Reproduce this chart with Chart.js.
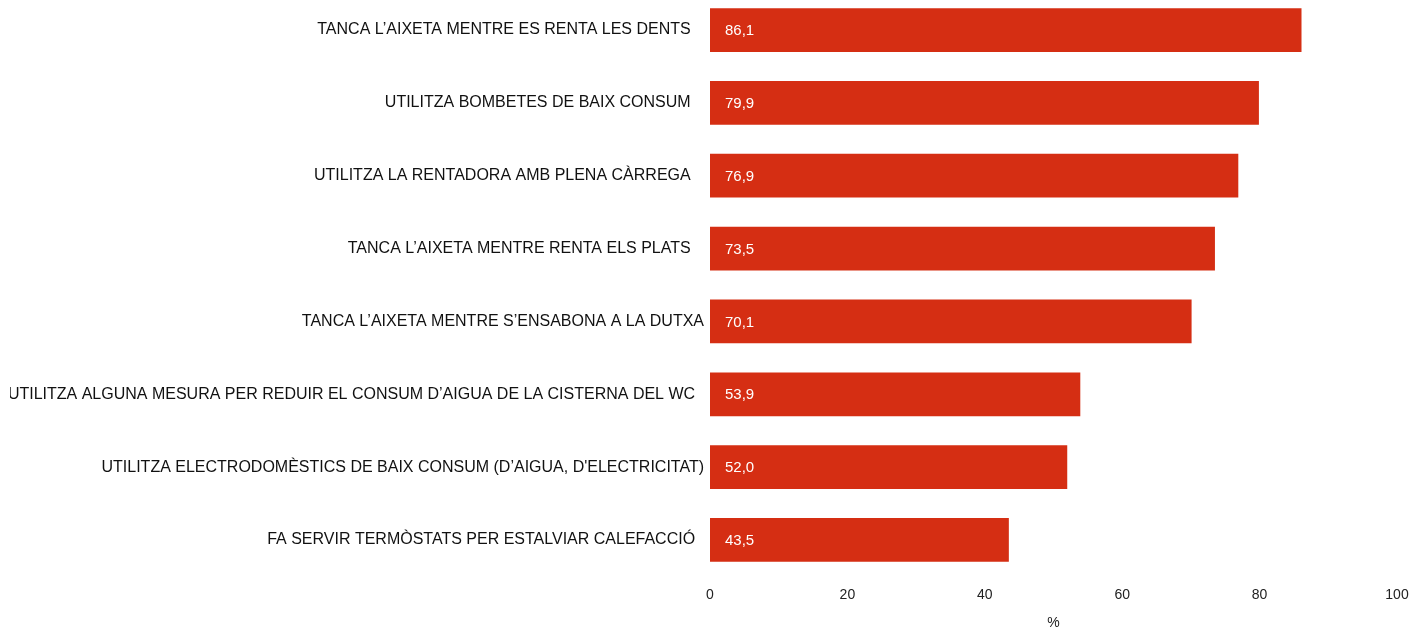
<!DOCTYPE html>
<html>
<head>
<meta charset="utf-8">
<script src="https://cdn.jsdelivr.net/npm/chart.js@4"></script>
<style>
    html, body { margin: 0; padding: 0; background: #fff; overflow: hidden; }
    #wrap { position: absolute; left: 0; top: -22px; width: 1412px; height: 654px; }
</style>
</head>
<body>
<div id="wrap"><canvas id="habits"></canvas></div>
<script>
// etiquetes (alguns porten espais al final, com a l'original)
var categories = [
    'TANCA L\u2019AIXETA MENTRE ES RENTA LES DENTS   ',
    'UTILITZA BOMBETES DE BAIX CONSUM   ',
    'UTILITZA LA RENTADORA AMB PLENA CÀRREGA   ',
    'TANCA L\u2019AIXETA MENTRE RENTA ELS PLATS   ',
    'TANCA L\u2019AIXETA MENTRE S\u2019ENSABONA A LA DUTXA',
    'UTILITZA ALGUNA MESURA PER REDUIR EL CONSUM D\u2019AIGUA DE LA CISTERNA DEL WC  ',
    'UTILITZA ELECTRODOMÈSTICS DE BAIX CONSUM (D\u2019AIGUA, D\'ELECTRICITAT)',
    'FA SERVIR TERMÒSTATS PER ESTALVIAR CALEFACCIÓ  '
];
var percentatges = [86.1, 79.9, 76.9, 73.5, 70.1, 53.9, 52.0, 43.5];
var xTicks = [0, 20, 40, 60, 80, 100];

Chart.defaults.font.family = '"Liberation Sans", Arial, sans-serif';
Chart.defaults.font.size = 14;

// valors dins de la barra + retall de l'etiqueta llarga a l'esquerra
var valueLabels = {
    id: 'valueLabels',
    afterDatasetsDraw: function (chart) {
        var c = chart.ctx;
        var meta = chart.getDatasetMeta(0);
        c.save();
        c.fillStyle = '#ffffff';
        c.font = '15px "Liberation Sans", Arial, sans-serif';
        c.textAlign = 'left';
        c.textBaseline = 'middle';
        meta.data.forEach(function (bar, i) {
            var txt = percentatges[i].toFixed(1).replace('.', ',');
            c.fillText(txt, bar.base + 15, bar.y + 1);
        });
        c.restore();
    },
    afterDraw: function (chart) {
        var c = chart.ctx;
        c.save();
        c.fillStyle = '#ffffff';
        c.fillRect(0, 0, 10, chart.height);
        c.restore();
    }
};

var ctx = document.querySelector('#habits');

new Chart(ctx, {
    type: 'bar',
    data: {
        labels: categories,
        datasets: [{
            data: percentatges,
            backgroundColor: '#d52e13',
            borderWidth: 0,
            barPercentage: 0.6,
            categoryPercentage: 1
        }]
    },
    options: {
        indexAxis: 'y',
        responsive: true,
        maintainAspectRatio: false,
        animation: false,
        layout: { padding: { top: 0, right: 15, bottom: 0, left: 0 } },
        plugins: {
            legend: { display: false },
            tooltip: { enabled: false }
        },
        scales: {
            x: {
                min: 0,
                max: 100,
                afterBuildTicks: function (scale) {
                    scale.ticks = xTicks.map(function (v) { return { value: v }; });
                },
                afterFit: function (scale) {
                    scale.paddingLeft = 0;
                    scale.paddingRight = 0;
                },
                grid: { display: false, drawTicks: false },
                border: { display: false },
                ticks: { color: '#222', padding: 10 },
                title: {
                    display: true,
                    text: '%',
                    color: '#222',
                    padding: { top: 2, bottom: 0 }
                }
            },
            y: {
                grid: { display: false, drawTicks: false },
                border: { display: false },
                ticks: { color: '#111', padding: 6, autoSkip: false, font: { size: 16 } },
                afterFit: function (scale) {
                    scale.width = 710;
                }
            }
        }
    },
    plugins: [valueLabels]
});
</script>
</body>
</html>
